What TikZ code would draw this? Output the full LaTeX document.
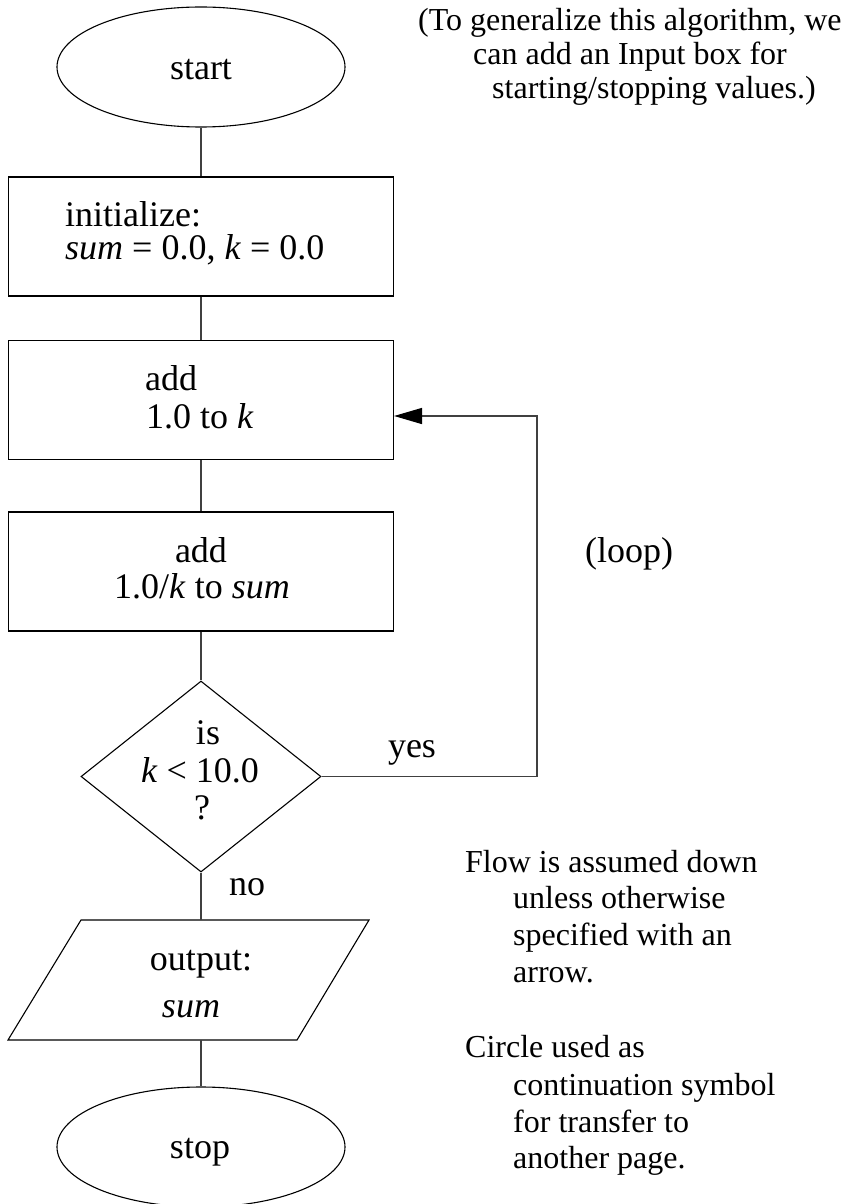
\documentclass[tikz,border=0pt]{standalone}
\usepackage{fontspec}
\setmainfont{Liberation Serif}
\usetikzlibrary{shapes.geometric,arrows.meta}

\tikzset{
  term/.style={draw,ellipse,line width=1.1pt,minimum width=288pt,minimum height=120pt,inner sep=0pt},
  procbox/.style={draw,rectangle,line width=1.1pt,minimum width=385pt,minimum height=119pt,inner sep=0pt},
  decide/.style={draw,diamond,line width=1.1pt,minimum width=240pt,minimum height=191pt,inner sep=0pt},
  conn/.style={line width=1.5pt,draw=black!75},
  lbl/.style={inner sep=0pt,anchor=base,font=\fontsize{36}{40}\selectfont},
  lbll/.style={lbl,anchor=base west},
  note/.style={inner sep=0pt,anchor=base west,font=\fontsize{32}{36}\selectfont},
}

\begin{document}
\begin{tikzpicture}[x=1pt,y=-1pt]
\useasboundingbox (0,0) rectangle (846,1204);
% shapes of the chart
\node[term] (start) at (201,67) {};
\node[procbox] (init) at (201,236.5) {};
\node[procbox] (addk) at (201,400) {};
\node[procbox] (addsum) at (201,571.5) {};
\node[decide] (test) at (201,776.5) {};
\draw[line width=1.1pt] (81,920) -- (369,920) -- (297,1040) -- (8,1040) -- cycle;
\coordinate (outtop) at (201,920);
\coordinate (outbot) at (201,1040);
\node[term] (stop) at (201,1147) {};

% texts inside
\node[lbl] (starttxt) at (201,80) {start};
\node[lbll] (init1) at (65,226) {initialize:};
\node[lbll] (init2) at (65,259) {\textit{sum} = 0.0, \textit{k} = 0.0};
\node[lbll] (addk1) at (145,390) {add};
\node[lbll] (addk2) at (146,428) {1.0 to \textit{k}};
\node[lbl] (addsum1) at (201,562) {add};
\node[lbl] (addsum2) at (202,598) {1.0/\textit{k} to \textit{sum}};
\node[lbl] (test1) at (208,744) {is};
\node[lbl] (test2) at (200,782) {\textit{k} < 10.0};
\node[lbl] (test3) at (202,819) {?};
\node[lbl] (out1) at (201,970) {output:};
\node[lbl] (out2) at (191,1017) {\textit{sum}};
\node[lbl] (stoptxt) at (200,1158) {stop};
\node[lbl] (yes) at (412,757) {yes};
\node[lbl] (no) at (247,895) {no};
\node[lbl] (loop) at (629,562) {(loop)};

% notes
\node[note] (gen1) at (418,31) {(To generalize this algorithm, we};
\node[note] (gen2) at (473,65) {can add an Input box for};
\node[note] (gen3) at (492,99) {starting/stopping values.)};
\node[note] (flow1) at (465,872) {Flow is assumed down};
\node[note] (flow2) at (513,908) {unless otherwise};
\node[note] (flow3) at (513,945) {specified with an};
\node[note] (flow4) at (513,982) {arrow.};
\node[note] (circ1) at (465,1057) {Circle used as};
\node[note] (circ2) at (513,1095) {continuation symbol};
\node[note] (circ3) at (513,1132) {for transfer to};
\node[note] (circ4) at (513,1168) {another page.};

% connectors
\draw[conn] (start) -- (init);
\draw[conn] (init) -- (addk);
\draw[conn] (addk) -- (addsum);
\draw[conn] (addsum) -- (test);
\draw[conn] (test) -- (outtop);
\draw[conn] (outbot) -- (stop);
\coordinate (loopx) at (537,600);
\draw[conn,-{Triangle[length=28pt,width=16pt,color=black]}] (test.east) -| (loopx) |- ([yshift=-16pt]addk.east);
\end{tikzpicture}
\end{document}
